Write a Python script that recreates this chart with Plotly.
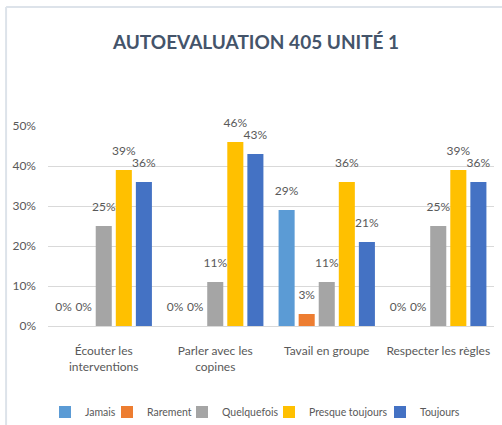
import plotly.graph_objects as go

categories = ["Écouter les<br>interventions", "Parler avec les<br>copines", "Tavail en groupe", "Respecter les règles"]
series_names = ["Jamais", "Rarement", "Quelquefois", "Presque toujours", "Toujours"]
jamais = [0.00, 0.00, 0.29, 0.00]
rarement = [0.00, 0.00, 0.03, 0.00]
quelquefois = [0.25, 0.11, 0.11, 0.25]
presque_toujours = [0.39, 0.46, 0.36, 0.39]
toujours = [0.36, 0.43, 0.21, 0.36]
y_ticks = [0, 0.1, 0.2, 0.3, 0.4, 0.5]

series_values = [jamais, rarement, quelquefois, presque_toujours, toujours]
colors = ["#5B9BD5", "#ED7D31", "#A5A5A5", "#FFC000", "#4472C4"]
legend_square_x = [59, 121, 196, 283, 394]  # px of each legend swatch's left edge

FONT = "Lato"
GRAY = "#595959"
W, H = 502, 425
ML, MR, MT, MB = 48, 8, 126, 99
PW = W - ML - MR
PH = H - MT - MB

# invisible large spaces on both sides push the outside labels a bit higher (Excel-like gap)
PAD = "<span style='font-size:56px'>&nbsp;</span>"

fig = go.Figure()
legend_layouts = {}
for i, (name, vals, col) in enumerate(zip(series_names, series_values, colors)):
    lg = "legend" if i == 0 else f"legend{i + 1}"
    fig.add_trace(go.Bar(
        x=categories, y=vals, name=name, legend=lg,
        marker=dict(color=col, line=dict(width=0)),
        texttemplate=PAD + "%{y:.0%}" + PAD,
        textposition="outside",
        textfont=dict(family=FONT, size=12, color=GRAY),
        constraintext="none",
        cliponaxis=False,
    ))
    legend_layouts[lg] = dict(
        orientation="h", x=(legend_square_x[i] - 14 - ML) / PW, xanchor="left",
        y=(H - MB - 412) / PH, yanchor="middle",
        font=dict(family=FONT, size=10.5, color=GRAY), itemwidth=30,
        bgcolor="rgba(0,0,0,0)",
    )

fig.update_layout(
    width=W, height=H,
    paper_bgcolor="white", plot_bgcolor="white",
    margin=dict(l=ML, r=MR, t=MT, b=MB, autoexpand=False),
    barmode="group", bargap=0.1, bargroupgap=0.2,
    title=dict(text="<b>AUTOEVALUATION 405 UNITÉ 1</b>", x=0.51, xanchor="center",
               y=1 - 42 / H, yanchor="middle", yref="container",
               font=dict(family=FONT, size=19, color="#44546A")),
    font=dict(family=FONT, size=12, color=GRAY),
    showlegend=True,
    xaxis=dict(showline=True, linecolor="#D9D9D9", linewidth=1, ticks="",
               ticklabelstandoff=14,
               tickfont=dict(family=FONT, size=12, color=GRAY)),
    yaxis=dict(range=[0, 0.5], tickvals=y_ticks, tickformat=".0%",
               showgrid=True, gridcolor="#D9D9D9", gridwidth=1,
               zeroline=False, showline=False, ticks="", ticklabelstandoff=11,
               tickfont=dict(family=FONT, size=12, color=GRAY)),
    shapes=[
        dict(type="line", xref="paper", yref="paper", x0=-0.094, x1=-0.094, y0=-0.5, y1=1.595,
             line=dict(color="#DDE3EA", width=2)),
        dict(type="line", xref="paper", yref="paper", x0=-0.094, x1=1.1, y0=1.595, y1=1.595,
             line=dict(color="#DDE3EA", width=2)),
    ],
    **legend_layouts,
)

fig.write_html("out.html", config={"displayModeBar": False},
               post_script="document.body.style.margin='0';")
